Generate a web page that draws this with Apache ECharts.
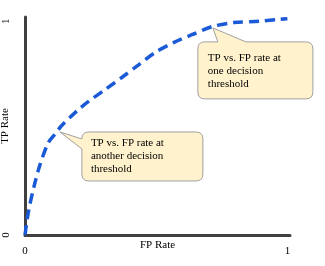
<!DOCTYPE html>
<html><head><meta charset="utf-8">
<script src="https://cdn.jsdelivr.net/npm/echarts@6/dist/echarts.min.js"></script>
<style>html,body{margin:0;padding:0;background:#fff}#c{width:325px;height:266px}</style>
</head><body><div id="c"></div>
<script>
// ROC curve values
const fpRate = [0, 0.013, 0.034, 0.057, 0.088, 0.114, 0.140, 0.202, 0.241, 0.305, 0.370, 0.433, 0.499, 0.568, 0.636, 0.713, 0.796, 0.894, 0.970, 1.0];
const tpRate = [0, 0.108, 0.225, 0.328, 0.430, 0.472, 0.512, 0.585, 0.624, 0.680, 0.738, 0.796, 0.856, 0.901, 0.937, 0.975, 0.994, 1.0, 1.009, 1.012];
const axisTicks = [0, 1];
const axisNames = ['FP Rate', 'TP Rate'];
const calloutTexts = ['TP vs. FP rate at\nanother decision\nthreshold', 'TP vs. FP rate at\none decision\nthreshold'];
const calloutFp = [0.133, 0.716];
const calloutTp = [0.482, 0.969];

const FONT = '"Liberation Serif", "Times New Roman", serif';
const chart = echarts.init(document.getElementById('c'), null, {renderer: 'canvas'});

function calloutShape(i, t) {
  const r = 7;
  let x0, y0, x1, y1, path, tx, ty;
  if (i === 0) {
    x0 = t[0] + 22; y0 = t[1]; x1 = x0 + 121; y1 = y0 + 49;
    path = `M${x0 + r} ${y0} L${x1 - r} ${y0} Q${x1} ${y0} ${x1} ${y0 + r} L${x1} ${y1 - r} Q${x1} ${y1} ${x1 - r} ${y1} L${x0 + r} ${y1} Q${x0} ${y1} ${x0} ${y1 - r} L${x0} ${y0 + 17} L${t[0]} ${t[1]} L${x0} ${y0 + r} Q${x0} ${y0} ${x0 + r} ${y0} Z`;
    tx = x0 + 9; ty = y0 + 5;
  } else {
    x0 = t[0] - 15; y0 = t[1] + 14; x1 = x0 + 115; y1 = y0 + 57;
    path = `M${x0 + r} ${y0} L${x0 + 20} ${y0} L${t[0]} ${t[1]} L${x0 + 48} ${y0} L${x1 - r} ${y0} Q${x1} ${y0} ${x1} ${y0 + r} L${x1} ${y1 - r} Q${x1} ${y1} ${x1 - r} ${y1} L${x0 + r} ${y1} Q${x0} ${y1} ${x0} ${y1 - r} L${x0} ${y0 + r} Q${x0} ${y0} ${x0 + r} ${y0} Z`;
    tx = x0 + 10; ty = y0 + 10;
  }
  return {path, tx, ty};
}

const option = {
  animation: false,
  grid: {left: 25, right: 35, top: 17, bottom: 31, containLabel: false, outerBoundsMode: 'none'},
  xAxis: {
    type: 'value', min: 0, max: 1.01,
    axisLine: {show: true, onZero: false, lineStyle: {color: '#404040', width: 3}},
    axisTick: {show: false}, splitLine: {show: false},
    axisLabel: {customValues: axisTicks, margin: 11, fontFamily: FONT, fontSize: 11, color: '#000'},
    name: axisNames[0], nameLocation: 'middle', nameGap: 5, nameMoveOverlap: false,
    nameTextStyle: {fontFamily: FONT, fontSize: 11, color: '#000', verticalAlign: 'top'}
  },
  yAxis: {
    type: 'value', min: 0, max: 1.02,
    axisLine: {show: true, onZero: false, lineStyle: {color: '#404040', width: 3}},
    axisTick: {show: false}, splitLine: {show: false},
    axisLabel: {customValues: axisTicks, margin: 13, rotate: 90, fontFamily: FONT, fontSize: 11, color: '#000'},
    name: axisNames[1], nameLocation: 'middle', nameGap: 14, nameRotate: 90, nameMoveOverlap: false,
    nameTextStyle: {fontFamily: FONT, fontSize: 11, color: '#000'}
  },
  series: [
    {
      type: 'line',
      data: fpRate.map((x, i) => [x, tpRate[i]]),
      smooth: 0.3,
      symbol: 'none', clip: false,
      lineStyle: {color: '#1a5ad7', width: 3.5, type: [10, 6], cap: 'butt'},
      z: 2
    },
    {
      type: 'custom',
      coordinateSystem: 'cartesian2d',
      clip: false,
      z: 5,
      data: calloutFp.map((x, i) => [x, calloutTp[i]]),
      renderItem(params, api) {
        const i = params.dataIndex;
        const t = api.coord([api.value(0), api.value(1)]);
        const s = calloutShape(i, t);
        return {
          type: 'group',
          children: [
            {type: 'path', shape: {pathData: s.path}, style: {fill: '#fff2cc', stroke: '#a0a0a0', lineWidth: 1}},
            {type: 'text', x: s.tx, y: s.ty, style: {text: calloutTexts[i], font: '11px ' + FONT, fill: '#000', lineHeight: 13, verticalAlign: 'top', align: 'left'}}
          ]
        };
      }
    }
  ]
};
chart.setOption(option);
</script></body></html>
